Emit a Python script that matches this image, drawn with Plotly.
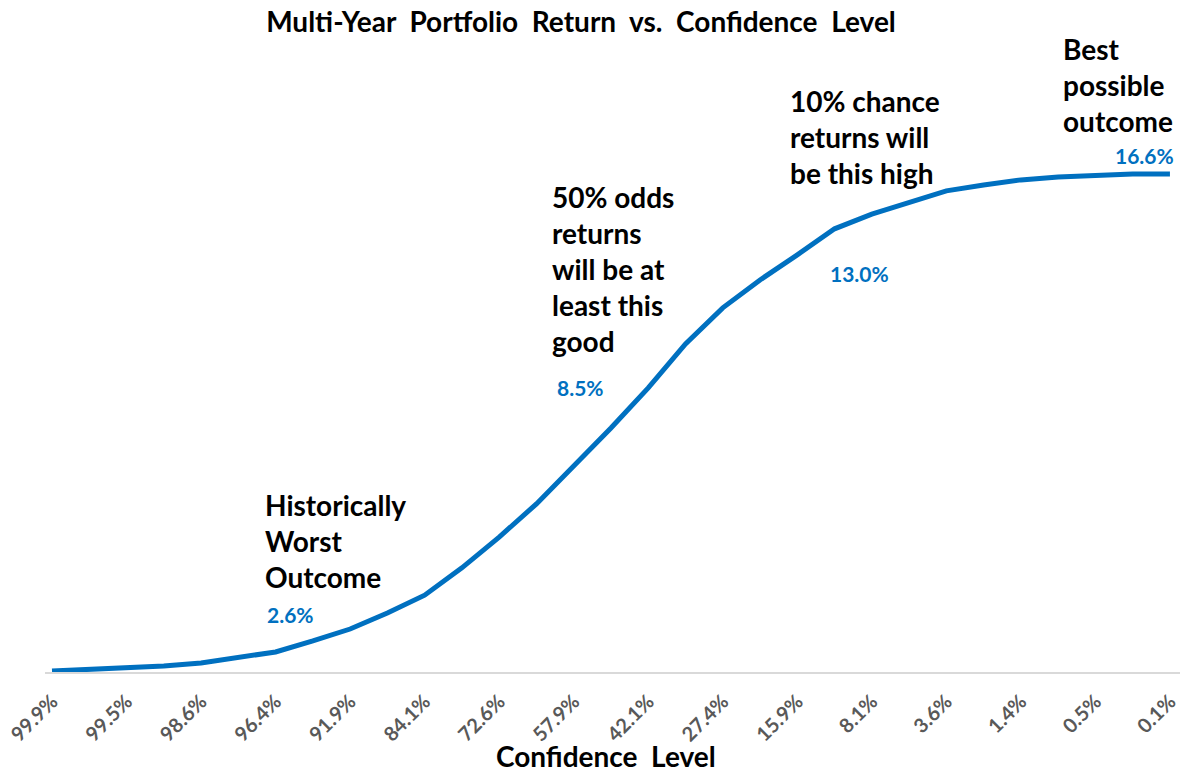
import plotly.graph_objects as go

# ---- data ----
confidence_labels = ["99.9%", "99.7%", "99.5%", "99.2%", "98.6%", "97.7%", "96.4%", "94.5%",
                     "91.9%", "88.5%", "84.1%", "78.8%", "72.6%", "65.5%", "57.9%", "50.0%",
                     "42.1%", "34.5%", "27.4%", "21.2%", "15.9%", "11.5%", "8.1%", "5.5%",
                     "3.6%", "2.3%", "1.4%", "0.8%", "0.5%", "0.3%", "0.1%"]
returns = [0.75, 0.81, 0.85, 0.91, 1.01, 1.17, 1.36, 1.71, 2.09, 2.60, 3.17, 4.04, 5.02, 6.08,
           7.29, 8.50, 9.78, 11.18, 12.33, 13.22, 14.02, 14.85, 15.32, 15.71, 16.06, 16.25,
           16.41, 16.50, 16.57, 16.60, 16.60]
tick_step = 2

callout_texts = [
    ["Historically", "Worst", "Outcome"],
    ["50% odds", "returns", "will be at", "least this", "good"],
    ["10% chance", "returns will", "be this high"],
    ["Best", "possible", "outcome"],
]
value_texts = ["2.6%", "8.5%", "13.0%", "16.6%"]

title_text = "Multi-Year  Portfolio  Return  vs.  Confidence  Level"
xaxis_title = "Confidence  Level"

# ---- layout geometry (pixels) ----
W, H = 1183, 773
L, R, T, B = 45, 3, 40, 101
PW, PH = W - L - R, H - T - B

def px_x(px):
    return (px - L) / PW

def px_y(py):
    return (H - B - py) / PH

FONT = "Lato"
BLUE = "#0070C0"

x_idx = list(range(len(returns)))

fig = go.Figure()
fig.add_trace(go.Scatter(
    x=x_idx, y=returns, mode="lines",
    line=dict(color=BLUE, width=5),
    hoverinfo="skip", showlegend=False,
))

annotations = []
callout_pos = [(265, 505), (552, 197), (790, 101), (1063, 49)]
for lines, (x0, y0) in zip(callout_texts, callout_pos):
    for k, line in enumerate(lines):
        annotations.append(dict(
            text="<b>" + line + "</b>", xref="paper", yref="paper",
            x=px_x(x0 - 2), y=px_y(y0 + 36 * k), xanchor="left", yanchor="middle",
            showarrow=False, font=dict(family=FONT, size=28, color="#000000"),
        ))

value_pos = [(267, 614), (557, 387), (830, 273), (1115, 155)]
for txt, (x0, y0) in zip(value_texts, value_pos):
    annotations.append(dict(
        text="<b>" + txt + "</b>", xref="paper", yref="paper",
        x=px_x(x0 - 2), y=px_y(y0), xanchor="left", yanchor="middle",
        showarrow=False, font=dict(family=FONT, size=21, color=BLUE),
    ))

annotations.append(dict(
    text="<b>" + xaxis_title + "</b>", xref="paper", yref="paper",
    x=px_x(606), y=px_y(756), xanchor="center", yanchor="middle",
    showarrow=False, font=dict(family=FONT, size=28, color="#000000"),
))

fig.update_layout(
    width=W, height=H,
    margin=dict(l=L, r=R, t=T, b=B),
    paper_bgcolor="white", plot_bgcolor="white",
    title=dict(text="<b>" + title_text + "</b>", x=581 / W, xanchor="center",
               y=1 - 22 / H, yanchor="middle", yref="container",
               font=dict(family=FONT, size=28, color="#000000")),
    annotations=annotations,
    xaxis=dict(
        range=[-0.188, 30.27],
        tickmode="array",
        tickvals=x_idx[::tick_step],
        ticktext=confidence_labels[::tick_step],
        tickangle=-45,
        tickfont=dict(family=FONT, size=20, color="#595959", weight="bold"),
        ticklabelstandoff=8,
        showgrid=False, zeroline=False,
        showline=True, linecolor="#D9D9D9", linewidth=2,
        ticks="", fixedrange=True,
    ),
    yaxis=dict(range=[0.72, 20.87], visible=False, fixedrange=True),
)

fig.write_html("out.html", include_plotlyjs=True, full_html=True,
               config={"displayModeBar": False},
               post_script="document.body.style.margin='0';")
